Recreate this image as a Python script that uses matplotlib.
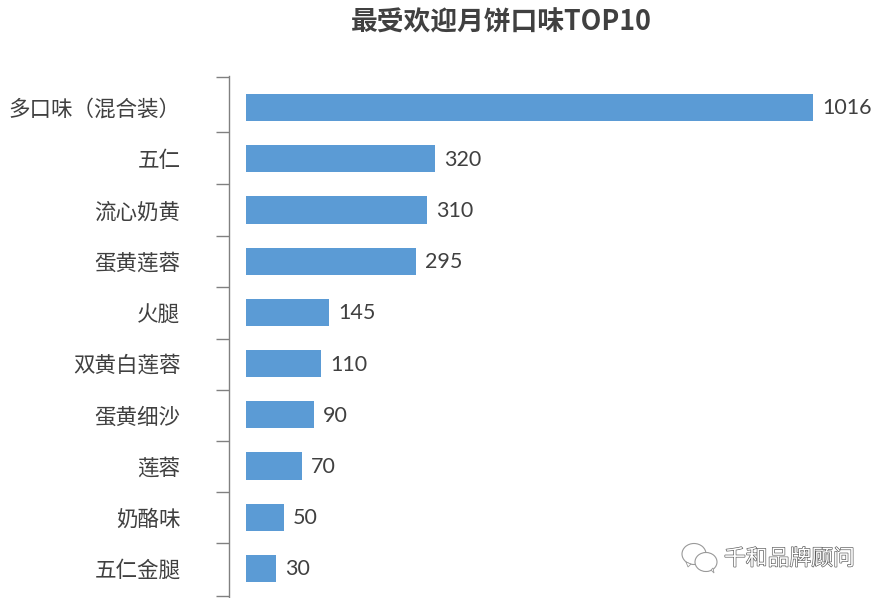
import matplotlib.pyplot as plt
from matplotlib.patches import Ellipse, Polygon
import matplotlib.patheffects as pe

plt.rcParams['font.family'] = ['Noto Sans CJK SC', 'DejaVu Sans']
plt.rcParams['text.kerning_factor'] = 10

flavors = ['多口味（混合装）', '五仁', '流心奶黄', '蛋黄莲蓉', '火腿', '双黄白莲蓉', '蛋黄细沙', '莲蓉', '奶酪味', '五仁金腿']
# printed values
values = [1016, 320, 310, 295, 145, 110, 90, 70, 50, 30]
# the bars in the picture are not to scale with their labels, so lengths are read separately
bar_lengths = [1016, 339, 324, 305, 149, 134, 122, 100, 68, 54]
tick_edges = [-0.60, 0.48, 1.49, 2.51, 3.50, 4.52, 5.52, 6.51, 7.51, 8.50, 9.54]

W, H = 884, 598
fig = plt.figure(figsize=(W / 100, H / 100), dpi=100)
ax = fig.add_axes([229 / W, 0, (W - 229) / W, (H - 76) / H])

y = list(range(len(flavors)))
ax.barh(y, bar_lengths, height=0.53, color='#5B9BD5')
ax.set_ylim(9.576, -0.615)
ax.set_xlim(-30.5, 1143)

for i in y:
    ax.annotate(str(values[i]), (bar_lengths[i], i), xytext=(6.5, -0.7), textcoords='offset points',
                va='center', ha='left', fontsize=15.5, color='#404040', family='Lato')

for s in ['top', 'right', 'bottom']:
    ax.spines[s].set_visible(False)
ax.spines['left'].set_color('#808080')
ax.spines['left'].set_linewidth(1)
ax.set_xticks([])
ax.set_yticks(y)
ax.set_yticklabels(flavors, fontsize=15.5, color='#404040')
ax.tick_params(axis='y', which='major', length=0, pad=35)
ax.set_yticks(tick_edges, minor=True)
ax.tick_params(axis='y', which='minor', length=9.5, width=1, color='#808080')

fig.text(501 / W, 1 - 23 / H, '最受欢迎月饼口味TOP10', ha='center', va='center',
         fontsize=19.3, fontweight='bold', color='#404040')

# watermark
wm = fig.text(724 / W, 1 - 559 / H, '千和品牌顾问', ha='left', va='center', fontsize=15.7, color='white')
wm.set_path_effects([pe.withStroke(linewidth=0.9, foreground='#555555')])

for cx, cy, w, h in [(694, 554, 24, 21), (706, 562, 22, 19)]:
    fig.add_artist(Ellipse((cx / W, 1 - cy / H), w / W, h / H, transform=fig.transFigure,
                           fc='white', ec='#999999', lw=0.8))
fig.add_artist(Polygon([(686 / W, 1 - 562 / H), (688 / W, 1 - 567 / H), (691 / W, 1 - 564 / H)],
                       transform=fig.transFigure, fc='white', ec='#999999', lw=0.6))
fig.add_artist(Polygon([(711 / W, 1 - 570 / H), (714 / W, 1 - 573 / H), (713 / W, 1 - 568 / H)],
                       transform=fig.transFigure, fc='white', ec='#999999', lw=0.6))

fig.savefig('out.png', dpi=100)
